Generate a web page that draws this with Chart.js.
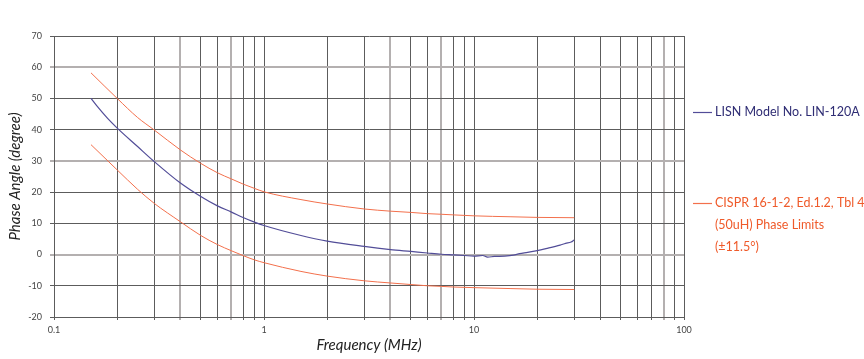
<!DOCTYPE html>
<html>
<head>
<meta charset="utf-8">
<script src="https://cdn.jsdelivr.net/npm/chart.js@4.4.1/dist/chart.umd.min.js"></script>
<style>
  html, body { margin: 0; padding: 0; background: #ffffff; }
  #wrap { position: relative; width: 864px; height: 359px; }
</style>
</head>
<body>
<div id="wrap"><canvas id="c" width="864" height="359"></canvas></div>
<script>
// ---- data ----
const lisnFreq = [0.15, 0.16, 0.18, 0.2, 0.25, 0.3, 0.4, 0.5, 0.6, 0.7, 0.8, 0.9, 1, 1.5, 2, 3, 4, 5, 6, 7, 8, 9, 10, 11, 11.6, 12.5, 14, 15.4, 16.5, 18, 19.7, 22, 25.7, 27.3, 29, 30];
const lisnPhase = [50.0, 47.6, 43.6, 40.5, 34.6, 29.8, 22.9, 18.6, 15.6, 13.6, 11.8, 10.4, 9.3, 6.1, 4.3, 2.6, 1.6, 1.0, 0.5, 0.1, -0.1, -0.3, -0.5, -0.3, -0.8, -0.6, -0.5, -0.2, 0.3, 0.7, 1.2, 1.9, 3.0, 3.6, 4.0, 4.7];

const limitFreq = [0.15, 0.2, 0.25, 0.3, 0.4, 0.5, 0.6, 0.7, 0.8, 0.9, 1, 1.5, 2, 3, 4, 5, 6, 7, 8, 10, 15, 20, 30];
const limitUpper = [58.2, 50.0, 43.9, 39.9, 33.5, 29.2, 26.2, 24.2, 22.5, 21.2, 20.1, 17.6, 16.2, 14.6, 13.9, 13.5, 13.1, 12.9, 12.7, 12.4, 12.1, 11.9, 11.8];
const limitLower = [35.2, 27.1, 20.9, 16.4, 10.5, 6.1, 3.2, 1.2, -0.4, -1.7, -2.6, -5.4, -6.9, -8.4, -9.1, -9.6, -10.0, -10.2, -10.4, -10.6, -10.9, -11.1, -11.2];

const xTickValues = [0.1,0.2,0.3,0.4,0.5,0.6,0.7,0.8,0.9,1,2,3,4,5,6,7,8,9,10,20,30,40,50,60,70,80,90,100];
const xTickLabels = [0.1, 1, 10, 100];
const xLightLines = [0.4, 0.7, 4, 7, 80];
const yLightLines = [60, 30, 0];

const lisnLabel = 'LISN Model No. LIN-120A';
const limitLabelLines = ['CISPR 16-1-2, Ed.1.2, Tbl 4', '(50uH) Phase Limits', '(\u00b111.5\u00b0)'];

// ---- styles ----
const BLUE = '#524d98';
const ORANGE = '#f3704c';
const BLUE_TEXT = '#2f2d74';
const ORANGE_TEXT = '#ef5a2a';
const GRID = '#5c5c5c';
const GRID_LIGHT = '#b4b0b0';

function pts(xs, ys) { return xs.map((x, i) => ({ x: x, y: ys[i] })); }
function near(a, list) { return list.some(v => Math.abs(v - a) < 1e-6); }

const legendPlugin = {
  id: 'sideLegend',
  afterDraw(chart) {
    const ctx = chart.ctx;
    ctx.save();
    ctx.font = '12.5px Lato';
    ctx.textBaseline = 'middle';
    ctx.textAlign = 'left';
    ctx.lineWidth = 1.2;
    // LISN entry
    ctx.strokeStyle = BLUE;
    ctx.beginPath(); ctx.moveTo(693, 112.5); ctx.lineTo(712, 112.5); ctx.stroke();
    ctx.fillStyle = BLUE_TEXT;
    ctx.fillText(lisnLabel, 715, 112);
    // CISPR entry
    ctx.strokeStyle = ORANGE;
    ctx.beginPath(); ctx.moveTo(693, 203.5); ctx.lineTo(712, 203.5); ctx.stroke();
    ctx.fillStyle = ORANGE_TEXT;
    limitLabelLines.forEach((t, i) => ctx.fillText(t, 715, 203 + i * 22));
    ctx.restore();
  }
};

new Chart(document.getElementById('c'), {
  type: 'line',
  data: {
    datasets: [
      { label: lisnLabel, data: pts(lisnFreq, lisnPhase), borderColor: BLUE, borderWidth: 1.2, pointRadius: 0, cubicInterpolationMode: 'monotone' },
      { label: 'upper', data: pts(limitFreq, limitUpper), borderColor: ORANGE, borderWidth: 1, pointRadius: 0, cubicInterpolationMode: 'monotone' },
      { label: 'lower', data: pts(limitFreq, limitLower), borderColor: ORANGE, borderWidth: 1, pointRadius: 0, cubicInterpolationMode: 'monotone' }
    ]
  },
  options: {
    responsive: false,
    animation: false,
    events: [],
    layout: { padding: { left: 0, right: 180, top: 36, bottom: 0 } },
    plugins: { legend: { display: false }, tooltip: { enabled: false } },
    scales: {
      x: {
        type: 'logarithmic',
        min: 0.1, max: 100,
        afterBuildTicks(scale) { scale.ticks = xTickValues.map(v => ({ value: v })); },
        afterFit(scale) { scale.height = 42; },
        ticks: {
          autoSkip: false, maxRotation: 0, padding: 5, color: '#444',
          font: { family: 'Lato', size: 9 },
          callback(v) { return near(v, xTickLabels) ? String(v) : ''; }
        },
        grid: {
          color: c => (c.tick && near(c.tick.value, xLightLines)) ? GRID_LIGHT : GRID,
          lineWidth: c => (c.tick && near(c.tick.value, xLightLines)) ? 2 : 1,
          tickLength: 3, drawTicks: true
        },
        border: { color: GRID, width: 1 },
        title: { display: true, text: 'Frequency (MHz)', color: '#222', font: { family: 'Lato', size: 15, style: 'italic' }, padding: { top: 0, bottom: 5 } }
      },
      y: {
        min: -20, max: 70,
        afterFit(scale) { scale.width = 54; },
        ticks: { stepSize: 10, padding: 8, color: '#444', font: { family: 'Lato', size: 9 } },
        grid: {
          color: c => (c.tick && near(c.tick.value, yLightLines)) ? GRID_LIGHT : GRID,
          lineWidth: c => (c.tick && near(c.tick.value, yLightLines)) ? 2 : 1,
          tickLength: 4, drawTicks: true
        },
        border: { color: GRID, width: 1 },
        title: { display: true, text: 'Phase Angle (degree)', color: '#222', font: { family: 'Lato', size: 15, style: 'italic' }, padding: { top: 6, bottom: 0 } }
      }
    }
  },
  plugins: [legendPlugin]
});
</script>
</body>
</html>
